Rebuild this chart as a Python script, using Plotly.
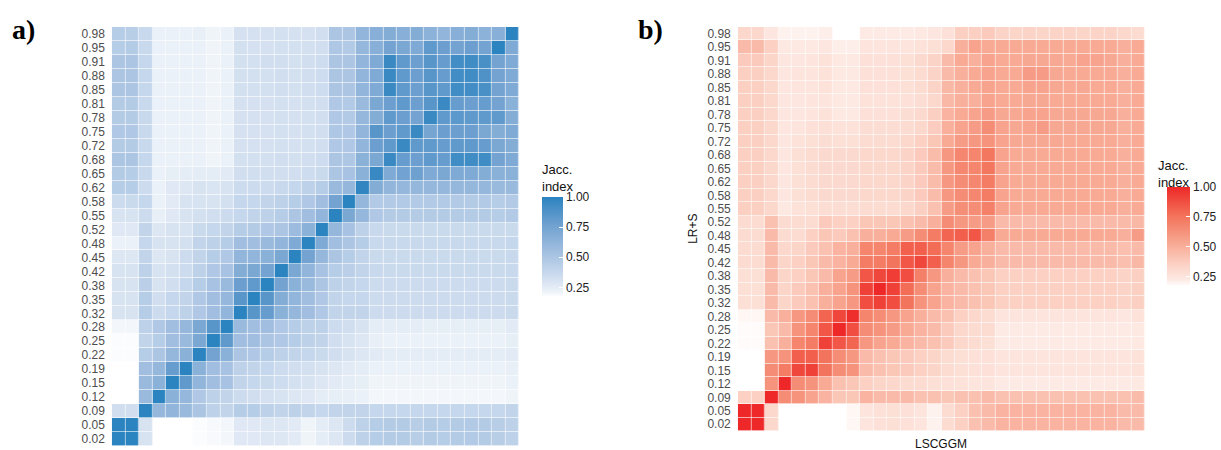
# Jaccard index between thresholds: a) method vs itself, b) LSCGGM vs LR+S

import plotly.graph_objects as go

thresholds = ["0.02", "0.05", "0.09", "0.12", "0.15", "0.19", "0.22", "0.25", "0.28", "0.32",
              "0.35", "0.38", "0.42", "0.45", "0.48", "0.52", "0.55", "0.58", "0.62", "0.65",
              "0.68", "0.72", "0.75", "0.78", "0.81", "0.85", "0.88", "0.91", "0.95", "0.98"]

# rows listed from top (0.98) to bottom (0.02)
jacc_a = [
    [0.45, 0.44, 0.37, 0.22, 0.22, 0.22, 0.23, 0.21, 0.22, 0.31, 0.31, 0.31, 0.32, 0.31, 0.31, 0.33, 0.5, 0.5, 0.62, 0.66, 0.68, 0.66, 0.68, 0.64, 0.62, 0.66, 0.68, 0.64, 0.66, 1.0],
    [0.45, 0.46, 0.37, 0.22, 0.22, 0.22, 0.22, 0.21, 0.22, 0.32, 0.31, 0.31, 0.32, 0.32, 0.32, 0.33, 0.49, 0.47, 0.6, 0.66, 0.75, 0.72, 0.7, 0.82, 0.78, 0.75, 0.78, 0.75, 1.0, 0.7],
    [0.5, 0.5, 0.38, 0.22, 0.22, 0.22, 0.22, 0.21, 0.22, 0.32, 0.32, 0.33, 0.33, 0.32, 0.33, 0.34, 0.5, 0.5, 0.62, 0.7, 0.95, 0.82, 0.78, 0.85, 0.8, 0.92, 0.93, 0.9, 0.75, 0.7],
    [0.5, 0.5, 0.38, 0.22, 0.22, 0.22, 0.22, 0.21, 0.22, 0.32, 0.32, 0.32, 0.33, 0.32, 0.33, 0.34, 0.5, 0.5, 0.62, 0.7, 0.95, 0.82, 0.78, 0.85, 0.8, 0.92, 0.93, 0.88, 0.75, 0.7],
    [0.5, 0.5, 0.38, 0.22, 0.22, 0.22, 0.22, 0.21, 0.22, 0.32, 0.32, 0.32, 0.33, 0.32, 0.33, 0.34, 0.5, 0.5, 0.62, 0.7, 0.95, 0.82, 0.78, 0.85, 0.82, 0.93, 0.92, 0.9, 0.75, 0.7],
    [0.46, 0.46, 0.37, 0.22, 0.22, 0.22, 0.22, 0.21, 0.22, 0.31, 0.31, 0.31, 0.32, 0.31, 0.32, 0.33, 0.48, 0.47, 0.58, 0.72, 0.78, 0.82, 0.78, 0.85, 0.95, 0.8, 0.78, 0.8, 0.75, 0.65],
    [0.46, 0.46, 0.37, 0.22, 0.22, 0.22, 0.22, 0.21, 0.22, 0.31, 0.31, 0.31, 0.32, 0.31, 0.32, 0.33, 0.48, 0.47, 0.6, 0.68, 0.82, 0.78, 0.75, 0.95, 0.82, 0.84, 0.82, 0.82, 0.82, 0.68],
    [0.48, 0.48, 0.37, 0.22, 0.22, 0.22, 0.22, 0.21, 0.22, 0.31, 0.31, 0.31, 0.32, 0.31, 0.32, 0.33, 0.49, 0.48, 0.62, 0.85, 0.78, 0.82, 0.95, 0.74, 0.78, 0.78, 0.78, 0.72, 0.68, 0.7],
    [0.46, 0.46, 0.37, 0.22, 0.22, 0.22, 0.22, 0.21, 0.22, 0.31, 0.31, 0.31, 0.32, 0.31, 0.32, 0.33, 0.48, 0.48, 0.62, 0.78, 0.82, 0.95, 0.82, 0.82, 0.8, 0.82, 0.82, 0.8, 0.72, 0.68],
    [0.5, 0.5, 0.38, 0.22, 0.22, 0.22, 0.22, 0.21, 0.22, 0.32, 0.32, 0.32, 0.33, 0.32, 0.33, 0.34, 0.5, 0.49, 0.65, 0.72, 0.95, 0.8, 0.78, 0.82, 0.8, 0.93, 0.93, 0.93, 0.75, 0.7],
    [0.46, 0.45, 0.37, 0.22, 0.24, 0.25, 0.25, 0.25, 0.26, 0.33, 0.33, 0.33, 0.33, 0.33, 0.34, 0.36, 0.5, 0.52, 0.65, 0.96, 0.7, 0.76, 0.77, 0.7, 0.72, 0.7, 0.7, 0.68, 0.65, 0.65],
    [0.45, 0.45, 0.35, 0.22, 0.27, 0.28, 0.3, 0.29, 0.3, 0.35, 0.35, 0.35, 0.37, 0.38, 0.42, 0.45, 0.58, 0.6, 0.98, 0.68, 0.62, 0.6, 0.6, 0.6, 0.6, 0.6, 0.6, 0.6, 0.58, 0.58],
    [0.35, 0.36, 0.38, 0.22, 0.26, 0.3, 0.3, 0.3, 0.32, 0.38, 0.38, 0.4, 0.42, 0.45, 0.48, 0.55, 0.75, 1.0, 0.6, 0.47, 0.47, 0.47, 0.47, 0.47, 0.47, 0.47, 0.46, 0.47, 0.45, 0.47],
    [0.3, 0.3, 0.35, 0.23, 0.27, 0.3, 0.32, 0.33, 0.35, 0.38, 0.4, 0.42, 0.45, 0.5, 0.55, 0.62, 1.0, 0.72, 0.6, 0.48, 0.46, 0.46, 0.46, 0.46, 0.46, 0.46, 0.46, 0.46, 0.45, 0.47],
    [0.27, 0.27, 0.4, 0.28, 0.3, 0.3, 0.36, 0.38, 0.4, 0.45, 0.46, 0.48, 0.5, 0.57, 0.65, 1.0, 0.6, 0.52, 0.42, 0.37, 0.36, 0.36, 0.36, 0.36, 0.36, 0.36, 0.36, 0.36, 0.36, 0.36],
    [0.22, 0.22, 0.38, 0.3, 0.3, 0.32, 0.4, 0.42, 0.45, 0.55, 0.55, 0.58, 0.62, 0.7, 1.0, 0.7, 0.55, 0.5, 0.45, 0.37, 0.37, 0.37, 0.37, 0.37, 0.37, 0.37, 0.37, 0.37, 0.37, 0.38],
    [0.28, 0.28, 0.4, 0.28, 0.3, 0.35, 0.4, 0.45, 0.48, 0.62, 0.62, 0.65, 0.72, 1.0, 0.75, 0.6, 0.5, 0.45, 0.4, 0.36, 0.36, 0.36, 0.36, 0.36, 0.36, 0.36, 0.36, 0.36, 0.36, 0.37],
    [0.3, 0.3, 0.42, 0.3, 0.32, 0.35, 0.42, 0.48, 0.52, 0.68, 0.72, 0.75, 1.0, 0.72, 0.62, 0.52, 0.45, 0.43, 0.4, 0.37, 0.36, 0.36, 0.36, 0.36, 0.36, 0.36, 0.36, 0.36, 0.36, 0.37],
    [0.3, 0.3, 0.43, 0.3, 0.33, 0.38, 0.45, 0.52, 0.58, 0.78, 0.82, 1.0, 0.75, 0.65, 0.58, 0.5, 0.42, 0.4, 0.38, 0.35, 0.35, 0.35, 0.35, 0.35, 0.35, 0.35, 0.35, 0.35, 0.35, 0.36],
    [0.3, 0.3, 0.45, 0.33, 0.38, 0.4, 0.48, 0.55, 0.6, 0.85, 1.0, 0.85, 0.68, 0.62, 0.55, 0.48, 0.4, 0.38, 0.38, 0.35, 0.35, 0.35, 0.35, 0.35, 0.35, 0.35, 0.35, 0.35, 0.35, 0.36],
    [0.3, 0.3, 0.45, 0.35, 0.38, 0.42, 0.48, 0.55, 0.62, 1.0, 0.85, 0.8, 0.65, 0.6, 0.55, 0.48, 0.4, 0.4, 0.4, 0.35, 0.35, 0.35, 0.35, 0.35, 0.35, 0.35, 0.35, 0.35, 0.35, 0.36],
    [0.2, 0.2, 0.42, 0.48, 0.55, 0.6, 0.72, 0.85, 1.0, 0.58, 0.55, 0.55, 0.48, 0.45, 0.42, 0.42, 0.35, 0.33, 0.3, 0.25, 0.25, 0.25, 0.25, 0.24, 0.24, 0.24, 0.24, 0.24, 0.24, 0.26],
    [0.18, 0.18, 0.4, 0.45, 0.55, 0.58, 0.72, 1.0, 0.82, 0.55, 0.55, 0.5, 0.48, 0.45, 0.42, 0.4, 0.33, 0.3, 0.28, 0.23, 0.22, 0.22, 0.22, 0.22, 0.22, 0.22, 0.22, 0.22, 0.22, 0.24],
    [0.18, 0.18, 0.45, 0.5, 0.6, 0.65, 1.0, 0.75, 0.65, 0.5, 0.48, 0.45, 0.42, 0.4, 0.38, 0.36, 0.33, 0.3, 0.28, 0.26, 0.25, 0.25, 0.25, 0.25, 0.25, 0.25, 0.25, 0.25, 0.25, 0.26],
    [0.17, 0.17, 0.55, 0.6, 0.8, 1.0, 0.65, 0.55, 0.52, 0.42, 0.4, 0.38, 0.35, 0.33, 0.32, 0.3, 0.28, 0.26, 0.25, 0.22, 0.22, 0.22, 0.22, 0.22, 0.22, 0.22, 0.22, 0.22, 0.22, 0.23],
    [0.17, 0.17, 0.58, 0.65, 1.0, 0.82, 0.62, 0.55, 0.52, 0.4, 0.38, 0.36, 0.34, 0.32, 0.3, 0.28, 0.26, 0.25, 0.24, 0.21, 0.21, 0.21, 0.21, 0.21, 0.21, 0.21, 0.21, 0.21, 0.21, 0.22],
    [0.17, 0.17, 0.58, 1.0, 0.65, 0.6, 0.48, 0.42, 0.4, 0.35, 0.33, 0.31, 0.3, 0.28, 0.27, 0.25, 0.24, 0.23, 0.22, 0.2, 0.2, 0.2, 0.2, 0.2, 0.2, 0.2, 0.2, 0.2, 0.2, 0.21],
    [0.33, 0.33, 1.0, 0.6, 0.62, 0.58, 0.5, 0.42, 0.4, 0.45, 0.45, 0.42, 0.4, 0.42, 0.4, 0.38, 0.4, 0.4, 0.4, 0.38, 0.38, 0.38, 0.38, 0.38, 0.38, 0.38, 0.38, 0.38, 0.38, 0.4],
    [1.0, 1.0, 0.3, 0.17, 0.17, 0.17, 0.18, 0.19, 0.2, 0.27, 0.27, 0.28, 0.28, 0.26, 0.21, 0.25, 0.28, 0.35, 0.42, 0.45, 0.46, 0.46, 0.44, 0.46, 0.45, 0.46, 0.47, 0.46, 0.44, 0.42],
    [1.0, 1.0, 0.3, 0.17, 0.17, 0.17, 0.18, 0.19, 0.2, 0.27, 0.27, 0.28, 0.28, 0.26, 0.21, 0.25, 0.28, 0.35, 0.42, 0.45, 0.46, 0.46, 0.44, 0.46, 0.45, 0.46, 0.47, 0.46, 0.44, 0.42],
]

jacc_b = [
    [0.32, 0.32, 0.24, 0.2, 0.2, 0.2, 0.21, None, None, 0.22, 0.22, 0.22, 0.22, 0.23, 0.24, 0.27, 0.36, 0.36, 0.38, 0.34, 0.33, 0.34, 0.33, 0.34, 0.34, 0.33, 0.34, 0.34, 0.32, 0.3],
    [0.45, 0.45, 0.35, 0.23, 0.23, 0.23, 0.24, 0.21, 0.21, 0.25, 0.25, 0.25, 0.25, 0.26, 0.28, 0.32, 0.5, 0.55, 0.52, 0.52, 0.52, 0.52, 0.52, 0.52, 0.52, 0.52, 0.52, 0.52, 0.5, 0.52],
    [0.38, 0.38, 0.33, 0.24, 0.24, 0.25, 0.26, 0.23, 0.23, 0.27, 0.27, 0.27, 0.28, 0.31, 0.34, 0.45, 0.52, 0.5, 0.55, 0.52, 0.52, 0.53, 0.53, 0.53, 0.52, 0.55, 0.55, 0.53, 0.5, 0.52],
    [0.36, 0.36, 0.32, 0.24, 0.25, 0.25, 0.26, 0.23, 0.23, 0.27, 0.27, 0.27, 0.28, 0.3, 0.34, 0.45, 0.5, 0.52, 0.55, 0.52, 0.52, 0.58, 0.58, 0.53, 0.52, 0.52, 0.52, 0.52, 0.5, 0.52],
    [0.36, 0.36, 0.32, 0.24, 0.25, 0.25, 0.26, 0.23, 0.23, 0.27, 0.27, 0.27, 0.28, 0.3, 0.34, 0.46, 0.5, 0.52, 0.55, 0.52, 0.52, 0.55, 0.55, 0.53, 0.52, 0.53, 0.52, 0.52, 0.5, 0.52],
    [0.36, 0.36, 0.32, 0.24, 0.24, 0.25, 0.25, 0.23, 0.23, 0.26, 0.26, 0.26, 0.27, 0.29, 0.32, 0.46, 0.5, 0.5, 0.55, 0.52, 0.52, 0.53, 0.53, 0.52, 0.52, 0.52, 0.52, 0.52, 0.5, 0.52],
    [0.36, 0.36, 0.32, 0.24, 0.24, 0.25, 0.26, 0.23, 0.23, 0.27, 0.27, 0.27, 0.29, 0.31, 0.36, 0.48, 0.52, 0.55, 0.58, 0.53, 0.53, 0.55, 0.55, 0.53, 0.53, 0.53, 0.53, 0.53, 0.5, 0.52],
    [0.36, 0.36, 0.32, 0.24, 0.25, 0.27, 0.28, 0.26, 0.26, 0.29, 0.29, 0.29, 0.3, 0.32, 0.37, 0.5, 0.55, 0.58, 0.65, 0.55, 0.53, 0.55, 0.58, 0.53, 0.53, 0.53, 0.53, 0.53, 0.5, 0.52],
    [0.36, 0.36, 0.32, 0.24, 0.26, 0.28, 0.29, 0.28, 0.28, 0.3, 0.3, 0.3, 0.32, 0.35, 0.4, 0.52, 0.58, 0.6, 0.62, 0.55, 0.53, 0.53, 0.53, 0.53, 0.52, 0.52, 0.52, 0.52, 0.5, 0.52],
    [0.36, 0.36, 0.32, 0.24, 0.28, 0.3, 0.31, 0.31, 0.31, 0.32, 0.32, 0.32, 0.34, 0.38, 0.44, 0.6, 0.67, 0.68, 0.74, 0.55, 0.52, 0.52, 0.52, 0.52, 0.52, 0.52, 0.52, 0.52, 0.5, 0.52],
    [0.36, 0.36, 0.32, 0.24, 0.28, 0.3, 0.31, 0.31, 0.31, 0.32, 0.32, 0.32, 0.34, 0.38, 0.44, 0.6, 0.67, 0.68, 0.74, 0.55, 0.52, 0.52, 0.52, 0.52, 0.52, 0.52, 0.52, 0.52, 0.5, 0.52],
    [0.36, 0.36, 0.32, 0.24, 0.28, 0.3, 0.31, 0.31, 0.31, 0.32, 0.32, 0.32, 0.34, 0.38, 0.44, 0.6, 0.65, 0.67, 0.72, 0.55, 0.52, 0.52, 0.52, 0.52, 0.52, 0.52, 0.52, 0.52, 0.5, 0.52],
    [0.36, 0.36, 0.32, 0.24, 0.28, 0.3, 0.31, 0.31, 0.31, 0.32, 0.32, 0.32, 0.34, 0.38, 0.44, 0.6, 0.65, 0.67, 0.72, 0.55, 0.52, 0.52, 0.52, 0.52, 0.52, 0.52, 0.52, 0.52, 0.5, 0.52],
    [0.36, 0.36, 0.32, 0.23, 0.26, 0.28, 0.29, 0.29, 0.29, 0.3, 0.3, 0.3, 0.32, 0.36, 0.42, 0.58, 0.64, 0.65, 0.7, 0.55, 0.52, 0.52, 0.52, 0.52, 0.52, 0.52, 0.52, 0.52, 0.5, 0.52],
    [0.3, 0.3, 0.42, 0.3, 0.3, 0.3, 0.38, 0.35, 0.35, 0.4, 0.4, 0.4, 0.42, 0.45, 0.5, 0.65, 0.6, 0.58, 0.58, 0.45, 0.45, 0.45, 0.45, 0.45, 0.45, 0.45, 0.45, 0.45, 0.45, 0.46],
    [0.3, 0.3, 0.45, 0.3, 0.3, 0.35, 0.4, 0.38, 0.42, 0.5, 0.5, 0.52, 0.58, 0.65, 0.72, 0.8, 0.82, 0.85, 0.7, 0.52, 0.52, 0.52, 0.52, 0.52, 0.52, 0.52, 0.52, 0.52, 0.5, 0.58],
    [0.3, 0.3, 0.45, 0.32, 0.33, 0.38, 0.42, 0.48, 0.5, 0.68, 0.68, 0.72, 0.82, 0.82, 0.78, 0.68, 0.58, 0.55, 0.5, 0.45, 0.45, 0.45, 0.45, 0.45, 0.45, 0.45, 0.45, 0.45, 0.43, 0.45],
    [0.3, 0.3, 0.45, 0.33, 0.35, 0.4, 0.45, 0.48, 0.52, 0.72, 0.72, 0.75, 0.85, 0.9, 0.82, 0.68, 0.6, 0.52, 0.5, 0.45, 0.45, 0.45, 0.45, 0.45, 0.45, 0.45, 0.45, 0.45, 0.43, 0.46],
    [0.28, 0.28, 0.45, 0.33, 0.35, 0.4, 0.45, 0.55, 0.58, 0.85, 0.9, 0.93, 0.88, 0.7, 0.6, 0.5, 0.45, 0.42, 0.4, 0.35, 0.35, 0.35, 0.35, 0.35, 0.35, 0.35, 0.35, 0.35, 0.34, 0.36],
    [0.28, 0.28, 0.45, 0.33, 0.38, 0.42, 0.5, 0.55, 0.62, 0.92, 1.0, 0.92, 0.78, 0.65, 0.55, 0.48, 0.45, 0.42, 0.4, 0.35, 0.35, 0.35, 0.35, 0.35, 0.35, 0.35, 0.35, 0.35, 0.34, 0.36],
    [0.28, 0.28, 0.45, 0.33, 0.38, 0.42, 0.5, 0.55, 0.6, 0.88, 0.92, 0.88, 0.75, 0.62, 0.55, 0.48, 0.45, 0.42, 0.4, 0.35, 0.35, 0.35, 0.35, 0.35, 0.35, 0.35, 0.35, 0.35, 0.34, 0.36],
    [0.19, 0.19, 0.45, 0.5, 0.6, 0.65, 0.8, 0.9, 0.98, 0.68, 0.65, 0.6, 0.55, 0.5, 0.45, 0.42, 0.35, 0.32, 0.3, 0.25, 0.25, 0.25, 0.25, 0.25, 0.25, 0.25, 0.25, 0.25, 0.24, 0.26],
    [0.18, 0.18, 0.4, 0.45, 0.62, 0.68, 0.85, 1.0, 0.88, 0.65, 0.62, 0.58, 0.52, 0.48, 0.45, 0.38, 0.32, 0.3, 0.3, 0.22, 0.22, 0.22, 0.22, 0.22, 0.22, 0.22, 0.22, 0.22, 0.22, 0.23],
    [0.18, 0.18, 0.42, 0.5, 0.68, 0.72, 0.92, 0.85, 0.8, 0.6, 0.55, 0.52, 0.48, 0.45, 0.42, 0.38, 0.32, 0.3, 0.28, 0.22, 0.22, 0.22, 0.22, 0.22, 0.22, 0.22, 0.22, 0.22, 0.22, 0.23],
    [0.17, 0.17, 0.6, 0.62, 0.82, 0.82, 0.75, 0.65, 0.6, 0.45, 0.42, 0.4, 0.38, 0.35, 0.33, 0.3, 0.28, 0.27, 0.27, 0.25, 0.25, 0.25, 0.25, 0.25, 0.25, 0.25, 0.25, 0.25, 0.25, 0.26],
    [0.17, 0.17, 0.65, 0.72, 0.9, 0.92, 0.75, 0.65, 0.62, 0.45, 0.42, 0.4, 0.38, 0.35, 0.33, 0.3, 0.28, 0.27, 0.27, 0.25, 0.25, 0.25, 0.25, 0.25, 0.25, 0.25, 0.25, 0.25, 0.25, 0.26],
    [0.17, 0.17, 0.62, 1.0, 0.65, 0.62, 0.52, 0.42, 0.4, 0.35, 0.33, 0.32, 0.3, 0.3, 0.28, 0.27, 0.26, 0.25, 0.25, 0.22, 0.22, 0.22, 0.22, 0.22, 0.22, 0.22, 0.22, 0.22, 0.22, 0.23],
    [0.35, 0.35, 1.0, 0.65, 0.62, 0.55, 0.48, 0.4, 0.4, 0.48, 0.45, 0.45, 0.45, 0.42, 0.42, 0.4, 0.42, 0.42, 0.45, 0.42, 0.42, 0.42, 0.42, 0.42, 0.42, 0.42, 0.42, 0.42, 0.42, 0.44],
    [1.0, 1.0, 0.32, 0.17, 0.17, 0.17, 0.17, 0.17, 0.19, 0.25, 0.27, 0.28, 0.27, 0.25, 0.2, 0.3, 0.35, 0.42, 0.45, 0.48, 0.48, 0.48, 0.48, 0.48, 0.48, 0.48, 0.48, 0.48, 0.45, 0.45],
    [1.0, 1.0, 0.32, 0.17, 0.17, 0.17, 0.17, 0.17, 0.19, 0.25, 0.27, 0.28, 0.27, 0.25, 0.2, 0.3, 0.35, 0.42, 0.45, 0.48, 0.48, 0.48, 0.48, 0.48, 0.48, 0.48, 0.48, 0.48, 0.45, 0.45],
]

legend_ticks = [0.25, 0.5, 0.75, 1.0]

blues = [[0, "rgb(255,255,255)"], [0.06, "rgb(235,241,248)"], [0.2, "rgb(207,221,239)"],
         [0.45, "rgb(162,191,224)"], [0.72, "rgb(112,161,208)"], [1, "rgb(43,131,192)"]]
reds = [[0, "rgb(255,255,255)"], [0.06, "rgb(253,234,228)"], [0.2, "rgb(252,212,200)"],
        [0.45, "rgb(247,165,143)"], [0.72, "rgb(243,112,88)"], [1, "rgb(238,40,40)"]]

W, H = 1221, 450


def cbar(x_px, top_px, len_px, thick):
    return dict(x=x_px / W, xanchor="left", y=1 - top_px / H, yanchor="top",
                len=len_px, lenmode="pixels", thickness=thick, thicknessmode="pixels",
                xpad=0, ypad=0, outlinewidth=0, ticks="inside", ticklen=4,
                tickcolor="white", tickvals=legend_ticks,
                ticktext=["%.2f" % t for t in legend_ticks],
                tickfont=dict(size=12, color="#222"))


fig = go.Figure()
fig.add_trace(go.Heatmap(z=jacc_a[::-1], x=thresholds, y=thresholds, colorscale=blues,
                         zmin=0.17, zmax=1.0, xgap=0.6, ygap=0.6,
                         colorbar=cbar(543, 197, 100, 21), xaxis="x", yaxis="y"))
fig.add_trace(go.Heatmap(z=jacc_b[::-1], x=thresholds, y=thresholds, colorscale=reds,
                         zmin=0.17, zmax=1.0, xgap=0.6, ygap=0.6,
                         colorbar=cbar(1169, 187, 99, 23), xaxis="x2", yaxis="y2"))

axis_common = dict(type="category", showgrid=False, zeroline=False, showline=False,
                   ticks="", tickfont=dict(size=12, color="#4d4d4d"))
fig.update_layout(
    width=W, height=H, margin=dict(l=0, r=0, t=0, b=0),
    paper_bgcolor="white", plot_bgcolor="white",
    font=dict(family="Liberation Sans, Arial, sans-serif"),
    xaxis=dict(axis_common, domain=[112 / W, 520 / W], anchor="y", showticklabels=False),
    yaxis=dict(axis_common, domain=[1 - 446 / H, 1 - 27 / H], anchor="x",
               tickmode="array", tickvals=thresholds, ticklabelstandoff=6),
    xaxis2=dict(axis_common, domain=[739 / W, 1147 / W], anchor="y2", showticklabels=False),
    yaxis2=dict(axis_common, domain=[1 - 431 / H, 1 - 27 / H], anchor="x2",
                tickmode="array", tickvals=thresholds, ticklabelstandoff=6),
)

# axis titles of panel b
fig.add_annotation(text="LSCGGM", x=943 / W, y=1 - 444 / H, xref="paper", yref="paper",
                   xanchor="center", yanchor="middle", showarrow=False,
                   font=dict(size=12, color="#111"))
fig.add_annotation(text="LR+S", x=694 / W, y=1 - 229 / H, xref="paper", yref="paper",
                   xanchor="center", yanchor="middle", textangle=-90, showarrow=False,
                   font=dict(size=12, color="#111"))

for txt, xp in [("a)", 10), ("b)", 637)]:
    fig.add_annotation(text="<b>" + txt + "</b>", x=xp / W, y=1 - 30 / H, xref="paper", yref="paper",
                       xanchor="left", yanchor="middle", showarrow=False,
                       font=dict(family="Liberation Serif, serif", size=28, color="black"))
for xp, yp in [(541, 160), (1158, 156)]:
    fig.add_annotation(text="Jacc.<br>index", x=xp / W, y=1 - yp / H, xref="paper", yref="paper",
                       xanchor="left", yanchor="top", align="left", showarrow=False,
                       font=dict(size=13, color="#111"))

fig.write_html("out.html", config={"displayModeBar": False},
               post_script="document.body.style.margin = '0';")
